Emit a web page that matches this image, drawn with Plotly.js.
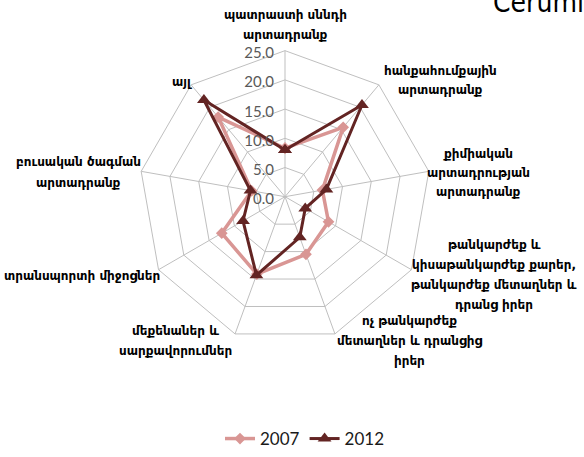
<!DOCTYPE html>
<html>
<head>
<meta charset="utf-8">
<script src="https://cdn.plot.ly/plotly-3.0.1.min.js"></script>
<style>html,body{margin:0;padding:0;background:#fff;}#chart{width:584px;height:457px;}</style>
</head>
<body>
<div id="chart"></div>
<script>
const categories = [
  "պատրաստի սննդի<br>արտադրանք",
  "հանքահումքային<br>արտադրանք",
  "քիմիական<br>արտադրության<br>արտադրանք",
  "թանկարժեք և<br>կիսաթանկարժեք քարեր,<br>թանկարժեք մետաղներ և<br>դրանց իրեր",
  "ոչ թանկարժեք<br>մետաղներ և դրանցից<br>իրեր",
  "մեքենաներ և<br>սարքավորումներ",
  "տրանսպորտի միջոցներ",
  "բուսական ծագման<br>արտադրանք",
  "այլ"
];
const values2007 = [8.3, 15.5, 6.5, 8.6, 10.5, 14.1, 12.5, 5.8, 17.8];
const values2012 = [8.0, 20.5, 7.2, 4.0, 7.4, 14.3, 8.3, 6.0, 21.6];
const seriesNames = ["2007", "2012"];
const radialTicks = [0, 5, 10, 15, 20, 25];
const cutTitleText = "Ceruml";

// layout-only: pixel placement of category labels (x, first line y, line gap, anchor)
const labelPlacement = [
  [285, 15, 20, "center"],
  [440, 71, 20, "center"],
  [478, 155, 19, "center"],
  [494, 247, 20, "center"],
  [409, 323, 20, "center"],
  [175, 333, 20, "center"],
  [162, 278, 20, "right"],
  [78, 163, 21, "center"],
  [182, 83, 20, "center"]
];

const close = a => a.concat([a[0]]);

const traces = [
  {
    type: "scatterpolar",
    name: seriesNames[0],
    r: close(values2007),
    theta: close(categories),
    mode: "lines+markers",
    line: {color: "#d99694", width: 3.5},
    marker: {symbol: "diamond", size: 9, color: "#d99694"},
    cliponaxis: false
  },
  {
    type: "scatterpolar",
    name: seriesNames[1],
    r: close(values2012),
    theta: close(categories),
    mode: "lines+markers",
    line: {color: "#632423", width: 3},
    marker: {symbol: "triangle-up", size: 12, color: "#632423"},
    cliponaxis: false
  }
];

const W = 584, H = 457, cx = 285, cy = 198, R = 147;

const annotations = [];
categories.forEach((c, i) => {
  const [px, py, gap, anchor] = labelPlacement[i];
  c.split("<br>").forEach((line, j) => {
    annotations.push({
      text: line, xref: "paper", yref: "paper",
      x: px / W, y: (H - (py + j * gap)) / H,
      xanchor: anchor, yanchor: "middle", showarrow: false,
      font: {family: "'DejaVu Sans', sans-serif", size: 12, color: "#000", weight: "bold"}
    });
  });
});
annotations.push({
  text: cutTitleText, xref: "paper", yref: "paper",
  x: 491 / W, y: 1, xanchor: "left", yanchor: "top", yshift: 16,
  showarrow: false,
  font: {family: "'DejaVu Sans Condensed', 'DejaVu Sans', sans-serif", size: 28, color: "#000"}
});

const layout = {
  width: W, height: H,
  margin: {l: 0, r: 0, t: 0, b: 0},
  paper_bgcolor: "#ffffff",
  font: {family: "Lato, 'Liberation Sans', sans-serif", color: "#000"},
  showlegend: true,
  legend: {
    orientation: "h", x: 305 / W, xanchor: "center", y: (H - 442) / H, yanchor: "middle",
    font: {family: "Lato, 'Liberation Sans', sans-serif", size: 17, color: "#1a1a1a"},
    itemwidth: 30, tracegroupgap: 0
  },
  polar: {
    domain: {x: [(cx - R) / W, (cx + R) / W], y: [(H - cy - R) / H, (H - cy + R) / H]},
    gridshape: "linear",
    bgcolor: "rgba(0,0,0,0)",
    angularaxis: {
      type: "category",
      rotation: 90,
      direction: "clockwise",
      showline: true, linecolor: "#bfbfbf", linewidth: 1,
      showgrid: true, gridcolor: "#bfbfbf", gridwidth: 1,
      ticks: "",
      showticklabels: false
    },
    radialaxis: {
      range: [0, 25],
      tickvals: radialTicks,
      tickformat: ".1f",
      angle: 90,
      side: "counterclockwise",
      showline: false,
      ticks: "",
      showgrid: true, gridcolor: "#bfbfbf", gridwidth: 1,
      tickfont: {family: "Lato, 'Liberation Sans', sans-serif", size: 15, color: "#595959"}
    }
  },
  annotations: annotations
};

Plotly.newPlot("chart", traces, layout, {displayModeBar: false, staticPlot: true});
</script>
</body>
</html>
